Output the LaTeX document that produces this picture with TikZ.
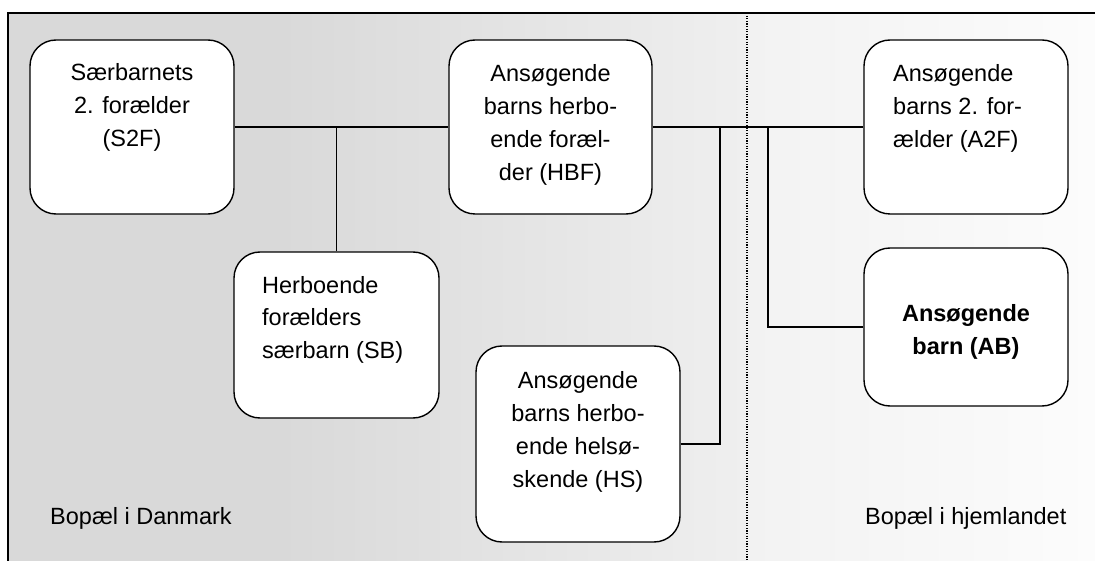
\documentclass[tikz,border=0pt]{standalone}
\usepackage{fontspec}
\setmainfont{Liberation Sans}
\definecolor{bgA}{HTML}{D9D9D9}
\definecolor{bgB}{HTML}{EFEFEF}
\definecolor{bgC}{HTML}{F2F2F2}
\definecolor{bgD}{HTML}{FCFCFC}
\begin{document}
\begin{tikzpicture}[x=1pt,y=-1pt,
  every node/.style={font=\fontsize{23.5}{33}\selectfont},
  box/.style={draw, line width=1.4pt, rounded corners=26pt, fill=white, inner sep=0pt},
  txt/.style={inner sep=0pt, align=center, anchor=base},
  txtl/.style={inner sep=0pt, align=left, anchor=base west},
  conn/.style={line width=1.1pt},
  frame/.style={line width=1.4pt}]
\useasboundingbox (0,0) rectangle (1095,561);
% backgrounds
\fill[bgA] (8,13) rectangle (280,561);
\shade[left color=bgA, right color=bgB] (280,13) rectangle (747,561);
\shade[left color=bgC, right color=bgD] (747,13) rectangle (1095,561);
\draw[frame] (8,561) -- (8,13) -- (1095,13);
\draw[line width=1.3pt, dash pattern=on 1.3pt off 1.3pt] (747,13) -- (747,561);
% junction coordinates
\coordinate (j1) at (720,127);
\coordinate (j2) at (768,127);
% boxes
\node[box, minimum width=204pt, minimum height=174pt] (s2f) at (132,127) {};
\node[box, minimum width=203pt, minimum height=174pt] (hbf) at (550.5,127) {};
\node[box, minimum width=204pt, minimum height=174pt] (a2f) at (966,127) {};
\node[box, minimum width=205pt, minimum height=166pt] (sb) at (336.5,335) {};
\node[box, minimum width=204pt, minimum height=196pt] (hs) at (578,444) {};
\node[box, minimum width=204pt, minimum height=158pt] (ab) at (966,327) {};
% texts (anchored at the baseline of the last line)
\node[txt] (s2ft) at (132,147) {Særbarnets\\2. forælder\\(S2F)};
\node[txt] (hbft) at (550.5,181) {Ansøgende\\barns herbo-\\ende foræl-\\der (HBF)};
\node[txtl] (a2ft) at (893,148) {Ansøgende\\barns 2. for-\\ælder (A2F)};
\node[txtl] (sbt) at (262,359) {Herboende\\forælders\\særbarn (SB)};
\node[txt] (hst) at (578,487) {Ansøgende\\barns herbo-\\ende helsø-\\skende (HS)};
\node[txt, font=\fontsize{23.5}{33}\selectfont\bfseries] (abt) at (966,355) {Ansøgende\\barn (AB)};
% labels
\node[txtl] (lbl1) at (50,524) {Bopæl i Danmark};
\node[txtl] (lbl2) at (865,524) {Bopæl i hjemlandet};
% connectors
\draw[conn] (s2f) -- (hbf);
\draw[conn] (hbf) -- (a2f);
\draw[conn] (sb.north) -- (sb.north |- s2f.east);
\draw[conn] (hs.east) -| (j1);
\draw[conn] (ab.west) -| (j2);
\end{tikzpicture}
\end{document}
